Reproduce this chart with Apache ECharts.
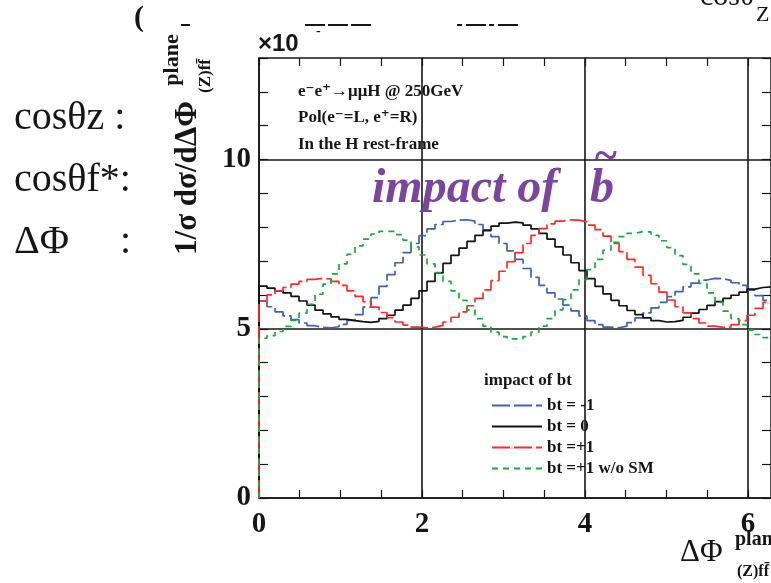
<!DOCTYPE html>
<html>
<head>
<meta charset="utf-8">
<script src="https://cdn.jsdelivr.net/npm/echarts@6/dist/echarts.min.js"></script>
<style>
html, body { margin: 0; padding: 0; background: #fff; }
#chart { width: 771px; height: 583px; }
</style>
</head>
<body>
<div id="chart"></div>
<script>
// histogram range: 0 .. 2pi, 64 bins (values are x10^-3)
var xMax = 2 * Math.PI;
var names = ['bt = -1', 'bt = 0', 'bt =+1', 'bt =+1 w/o SM'];
var xLabels = [0, 2, 4, 6];
var yLabels = [0, 5, 10];

var btMinus = [5.82, 5.65, 5.50, 5.38, 5.27, 5.17, 5.09, 5.04, 5.03, 5.06, 5.13, 5.25, 5.42, 5.64, 5.92, 6.25,
	6.60, 6.95, 7.25, 7.52, 7.75, 7.95, 8.08, 8.17, 8.21, 8.22, 8.18, 8.08, 7.92, 7.72, 7.52, 7.30,
	7.05, 6.78, 6.52, 6.28, 6.06, 5.88, 5.70, 5.53, 5.38, 5.24, 5.12, 5.05, 5.03, 5.08, 5.18, 5.32,
	5.47, 5.62, 5.78, 5.95, 6.10, 6.24, 6.35, 6.44, 6.49, 6.48, 6.43, 6.36, 6.28, 6.14, 5.98, 5.84];
var btZero = [6.26, 6.20, 6.12, 6.06, 5.96, 5.82, 5.70, 5.55, 5.44, 5.35, 5.28, 5.24, 5.21, 5.19, 5.22, 5.30,
	5.40, 5.55, 5.70, 5.90, 6.12, 6.40, 6.65, 6.93, 7.17, 7.38, 7.58, 7.76, 7.90, 8.03, 8.12, 8.15,
	8.13, 8.06, 7.95, 7.82, 7.65, 7.42, 7.18, 6.95, 6.72, 6.48, 6.25, 6.03, 5.84, 5.68, 5.54, 5.42,
	5.32, 5.24, 5.20, 5.21, 5.25, 5.34, 5.46, 5.57, 5.69, 5.80, 5.90, 5.99, 6.08, 6.17, 6.22, 6.24];
var btPlus = [5.82, 6.00, 6.12, 6.22, 6.32, 6.40, 6.46, 6.49, 6.47, 6.40, 6.28, 6.12, 5.96, 5.80, 5.64, 5.48,
	5.33, 5.20, 5.11, 5.05, 5.03, 5.05, 5.10, 5.20, 5.34, 5.50, 5.68, 5.90, 6.15, 6.42, 6.70, 6.98,
	7.25, 7.52, 7.76, 7.96, 8.10, 8.18, 8.22, 8.21, 8.16, 8.06, 7.93, 7.74, 7.52, 7.28, 7.05, 6.82,
	6.58, 6.33, 6.08, 5.85, 5.65, 5.47, 5.30, 5.17, 5.08, 5.04, 5.05, 5.12, 5.24, 5.40, 5.60, 5.78];
var btPlusNoSM = [4.72, 4.80, 4.92, 5.07, 5.25, 5.46, 5.72, 6.02, 6.32, 6.62, 6.92, 7.20, 7.45, 7.65, 7.80, 7.88,
	7.88, 7.78, 7.62, 7.42, 7.18, 6.92, 6.66, 6.40, 6.12, 5.84, 5.56, 5.30, 5.08, 4.90, 4.77, 4.70,
	4.70, 4.77, 4.90, 5.08, 5.30, 5.56, 5.86, 6.15, 6.45, 6.75, 7.05, 7.32, 7.55, 7.72, 7.82, 7.87,
	7.86, 7.76, 7.60, 7.40, 7.16, 6.90, 6.62, 6.34, 6.06, 5.78, 5.52, 5.30, 5.12, 4.96, 4.83, 4.74];

var serif = '"Liberation Serif", "DejaVu Serif", serif';
var ink = '#161616';
var clear = 'rgba(0,0,0,0)';

// bin edges -> step points, starting from zero at the left edge like ROOT does
function histPoints(vals) {
	var w = xMax / vals.length;
	var pts = [[0, 0]];
	for (var i = 0; i < vals.length; i++) {
		pts.push([i * w, vals[i]]);
	}
	pts.push([xMax, vals[vals.length - 1]]);
	return pts;
}

function histSeries(name, vals, color, dash) {
	return {
		name: name,
		type: 'line',
		step: 'end',
		symbol: 'none',
		animation: false,
		data: histPoints(vals),
		lineStyle: { color: color, width: 1.7, type: dash },
		itemStyle: { color: color }
	};
}

function tickAxisX(pos, labels) {
	return {
		type: 'value', position: pos, min: 0, max: xMax, interval: 0.5,
		axisLine: { show: true, onZero: false, lineStyle: { color: ink, width: 1.5 } },
		axisTick: { show: true, inside: true, length: 8, lineStyle: { color: ink, width: 1.2 } },
		axisLabel: {
			show: labels, margin: 12, showMaxLabel: false,
			fontFamily: serif, fontWeight: 'bold', fontSize: 29, color: ink,
			formatter: function (v) { return xLabels.indexOf(v) >= 0 ? String(v) : ''; }
		},
		splitLine: {
			show: labels,
			lineStyle: { color: [ink, clear, clear, clear], width: 1.6 }
		}
	};
}

function tickAxisY(pos, labels) {
	return {
		type: 'value', position: pos, min: 0, max: 13, interval: 1,
		axisLine: { show: true, onZero: false, lineStyle: { color: ink, width: 1.5 } },
		axisTick: { show: true, inside: true, length: 9, lineStyle: { color: ink, width: 1.2 } },
		axisLabel: {
			show: labels, margin: 8,
			fontFamily: serif, fontWeight: 'bold', fontSize: 29, color: ink,
			formatter: function (v) { return yLabels.indexOf(v) >= 0 ? String(v) : ''; }
		},
		splitLine: {
			show: labels,
			lineStyle: { color: [ink, clear, clear, clear, clear], width: 1.6 }
		}
	};
}

function txt(x, y, s, size, opts) {
	opts = opts || {};
	return {
		type: 'text', x: x, y: y, rotation: opts.rot || 0, z: 100,
		style: {
			text: s, fill: opts.color || ink,
			font: (opts.style || '') + ' ' + (opts.weight || 'normal') + ' ' + size + 'px ' + (opts.family || serif),
			textAlign: opts.align || 'left', textVerticalAlign: opts.valign || 'middle'
		}
	};
}

var chart = echarts.init(document.getElementById('chart'), null, { renderer: 'canvas' });

var option = {
	backgroundColor: '#fff',
	animation: false,
	grid: { left: 259, top: 58, width: 514, height: 440, show: false },
	xAxis: [tickAxisX('bottom', true), tickAxisX('top', false)],
	yAxis: [tickAxisY('left', true), tickAxisY('right', false)],
	legend: {
		orient: 'vertical', left: 486, top: 392,
		itemWidth: 50, itemHeight: 12, itemGap: 4,
		selectedMode: false,
		itemStyle: { opacity: 0 },
		textStyle: { fontFamily: serif, fontWeight: 'bold', fontSize: 17, color: ink, lineHeight: 14 },
		data: names
	},
	series: [
		histSeries(names[0], btMinus, '#3e60b6', [18, 4]),
		histSeries(names[1], btZero, '#111111', 'solid'),
		histSeries(names[2], btPlus, '#ff2a2a', [18, 4]),
		histSeries(names[3], btPlusNoSM, '#1ea640', [6, 5])
	],
	graphic: [
		// slide text on the left
		txt(14, 118, 'cos\u03b8z :', 40),
		txt(14, 180, 'cos\u03b8f*:', 40),
		txt(14, 242, '\u0394\u03a6', 40),
		txt(120, 242, ':', 40),
		// cropped bits along the top edge
		txt(134, 18, '(', 30, { weight: 'bold' }),
		{ type: 'line', shape: { x1: 181, y1: 25, x2: 190, y2: 25 }, style: { stroke: ink, lineWidth: 2 } },
		{ type: 'line', shape: { x1: 305, y1: 25, x2: 372, y2: 25 }, style: { stroke: ink, lineWidth: 2, lineDash: [20, 3] } },
		{ type: 'line', shape: { x1: 457, y1: 25, x2: 521, y2: 25 }, style: { stroke: ink, lineWidth: 2, lineDash: [5, 4, 20, 3] } },
		txt(700, 12, 'cos\u03b8', 30, { valign: 'bottom' }),
		txt(756, 26, 'Z', 22, { valign: 'bottom' }),
		txt(258, 44, '\u00d710', 24, { weight: 'bold', family: '"Liberation Sans", Arial, sans-serif' }),
		txt(316, 31, '-', 14, { weight: 'bold' }),
		// y axis title
		txt(188, 178, '1/\u03c3 d\u03c3/d\u0394\u03a6', 31, { weight: 'bold', rot: Math.PI / 2, align: 'center' }),
		txt(172, 60, 'plane', 22, { weight: 'bold', rot: Math.PI / 2, align: 'center' }),
		txt(206, 76, '(Z)ff\u0304', 17, { weight: 'bold', rot: Math.PI / 2, align: 'center' }),
		// x axis title
		txt(680, 553, '\u0394\u03a6', 31),
		txt(735, 540, 'plane', 20, { weight: 'bold' }),
		txt(737, 572, '(Z)ff\u0304', 16, { weight: 'bold' }),
		// info box
		txt(298, 92, 'e\u207be\u207a\u2192\u03bc\u03bcH @ 250GeV', 17, { weight: 'bold' }),
		txt(298, 118, 'Pol(e\u207b=L, e\u207a=R)', 17, { weight: 'bold' }),
		txt(298, 145, 'In the H rest-frame', 17, { weight: 'bold' }),
		// purple annotation
		txt(372, 190, 'impact of', 48, { weight: 'bold', style: 'italic', color: '#7a449f' }),
		txt(590, 190, 'b', 48, { weight: 'bold', style: 'italic', color: '#7a449f' }),
		txt(606, 158, '~', 42, { weight: 'bold', color: '#7a449f', align: 'center' }),
		// legend header
		txt(484, 381, 'impact of bt', 17, { weight: 'bold' })
	]
};

chart.setOption(option);
</script>
</body>
</html>
